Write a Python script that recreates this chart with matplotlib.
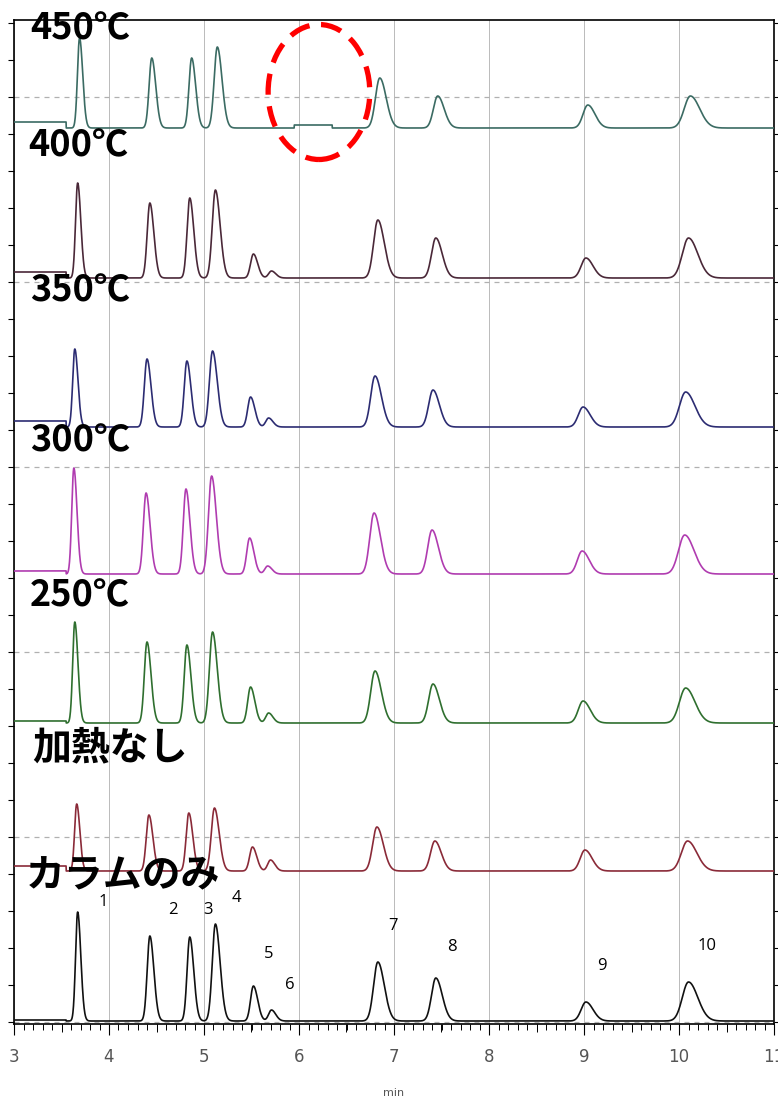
import numpy as np
import matplotlib
matplotlib.use("Agg")
import matplotlib.pyplot as plt
from matplotlib.patches import Ellipse
from matplotlib.ticker import MultipleLocator
from matplotlib import font_manager

# --- DATA ---
# retention times (min) and peak widths (sigma, min) of the 10 components
RT = [3.67, 4.43, 4.85, 5.12, 5.52, 5.71, 6.83, 7.44, 9.02, 10.10]
SIGMA = [0.022, 0.028, 0.028, 0.033, 0.03, 0.03, 0.045, 0.045, 0.05, 0.065]
PEAK_LABELS = ["1", "2", "3", "4", "5", "6", "7", "8", "9", "10"]

# traces from top to bottom
TRACE_NAMES = ["450℃", "400℃", "350℃", "300℃", "250℃", "加熱なし", "カラムのみ"]
H_450 = [90, 70, 70, 81, 0, 0, 50, 32, 23, 32]
H_400 = [95, 75, 80, 88, 24, 7, 58, 40, 20, 40]
H_350 = [78, 68, 66, 76, 30, 9, 51, 37, 20, 35]
H_300 = [106, 81, 85, 98, 36, 8, 61, 44, 23, 39]
H_250 = [101, 81, 78, 91, 36, 10, 52, 39, 22, 35]
H_NOHEAT = [67, 56, 58, 63, 24, 11, 44, 30, 21, 30]
H_COLUMN = [109, 85, 84, 97, 35, 11, 59, 43, 19, 39]
HEIGHTS = [H_450, H_400, H_350, H_300, H_250, H_NOHEAT, H_COLUMN]
RT_SHIFT = [0.02, 0.0, -0.03, -0.04, -0.03, -0.01, 0.0]
START_STEP = [6, 6, 6, 3, 2, 5, 1]  # baseline raise before first peak

# --- STYLE ---
OFFSETS = [894, 744, 595, 448, 299, 151, 1]
COLORS = ["#3b6b63", "#4a2838", "#2c2c72", "#b03cb0", "#2f6f2f", "#8a2a38", "#111111"]
LABEL_Y = [993, 876, 731, 581, 426, 274, 146]
LABEL_X = [3.17, 3.15, 3.17, 3.17, 3.17, 3.19, 3.12]
LABEL_SIZE = [26, 26, 26, 26, 26, 28, 28]
NUM_POS = [(3.94, 120), (4.67, 112), (5.04, 112), (5.34, 124), (5.68, 68),
           (5.905, 37), (6.99, 96), (7.61, 75), (9.19, 56), (10.29, 76)]

names = {f.name for f in font_manager.fontManager.ttflist}
TICK_FONT = "Liberation Sans Narrow" if "Liberation Sans Narrow" in names else "DejaVu Sans"
JP_FONT = ["Noto Sans CJK JP", "DejaVu Sans"]


def peak(t, rt, sigma, h):
    """Slightly tailing gaussian peak."""
    s = np.where(t < rt, sigma, sigma * 1.5)
    return h * np.exp(-0.5 * ((t - rt) / s) ** 2)


t = np.linspace(3.0, 11.0, 4000)

fig = plt.figure(figsize=(7.78, 11.0), dpi=100)
ax = fig.add_axes([14 / 778, 76 / 1100, 760 / 778, 1004 / 1100])

for i, heights in enumerate(HEIGHTS):
    y = np.zeros_like(t)
    for rt, sg, h in zip(RT, SIGMA, heights):
        y += peak(t, rt + RT_SHIFT[i], sg, h)
    y += np.where(t < 3.55, START_STEP[i], 0)
    if i == 0:
        # small bump where peaks 5/6 disappear at 450 C
        y += np.where((t > 5.95) & (t < 6.35), 3, 0)
    ax.plot(t, y + OFFSETS[i], color=COLORS[i], lw=1.2, zorder=3)
    ax.text(LABEL_X[i], LABEL_Y[i], TRACE_NAMES[i], fontsize=LABEL_SIZE[i], fontweight="bold",
            family=JP_FONT, ha="left", va="center", zorder=5)

for lab, (px, py) in zip(PEAK_LABELS, NUM_POS):
    ax.text(px, py, lab, fontsize=12, family=["Open Sans", "DejaVu Sans"],
            ha="center", va="center", zorder=5)

# red dashed circle around the missing peaks
ell = Ellipse((6.21, 930), 1.07, 135, fill=False, edgecolor="#ff0000", lw=3.8,
              linestyle=(0, (4, 2.2)), zorder=6, clip_on=False)
ax.add_patch(ell)

# --- AXES ---
ax.set_xlim(3, 11)
ax.set_ylim(-2, 1002)
ax.xaxis.set_major_locator(MultipleLocator(1))
ax.xaxis.set_minor_locator(MultipleLocator(0.1))
ax.yaxis.set_major_locator(MultipleLocator(185))
ax.yaxis.set_minor_locator(MultipleLocator(37))
ax.tick_params(axis="x", which="major", length=8, width=0.8, direction="out",
               labelsize=12, labelcolor="#555555", pad=9)
ax.tick_params(axis="x", which="minor", length=4, width=0.7, direction="out")
ax.tick_params(axis="y", which="both", length=4, width=0.8, direction="out",
               left=True, right=True, labelleft=False)
for lab in ax.get_xticklabels():
    lab.set_family(TICK_FONT)
ax.set_xlabel("min", fontsize=8, color="#555555", family=TICK_FONT, labelpad=16)

# half-minute ticks are a bit longer
sec = ax.secondary_xaxis("bottom")
sec.set_xticks(np.arange(3.5, 11, 1.0))
sec.tick_params(length=6, width=0.7, labelbottom=False)
sec.spines["bottom"].set_visible(False)

ax.grid(axis="x", which="major", color="#b0b0b0", lw=0.6, zorder=1)
ax.grid(axis="y", which="major", color="#b0b0b0", lw=0.9, linestyle=(0, (4, 4)), zorder=1)
for sp in ax.spines.values():
    sp.set_linewidth(1.2)

fig.savefig("out.png", dpi=100)
